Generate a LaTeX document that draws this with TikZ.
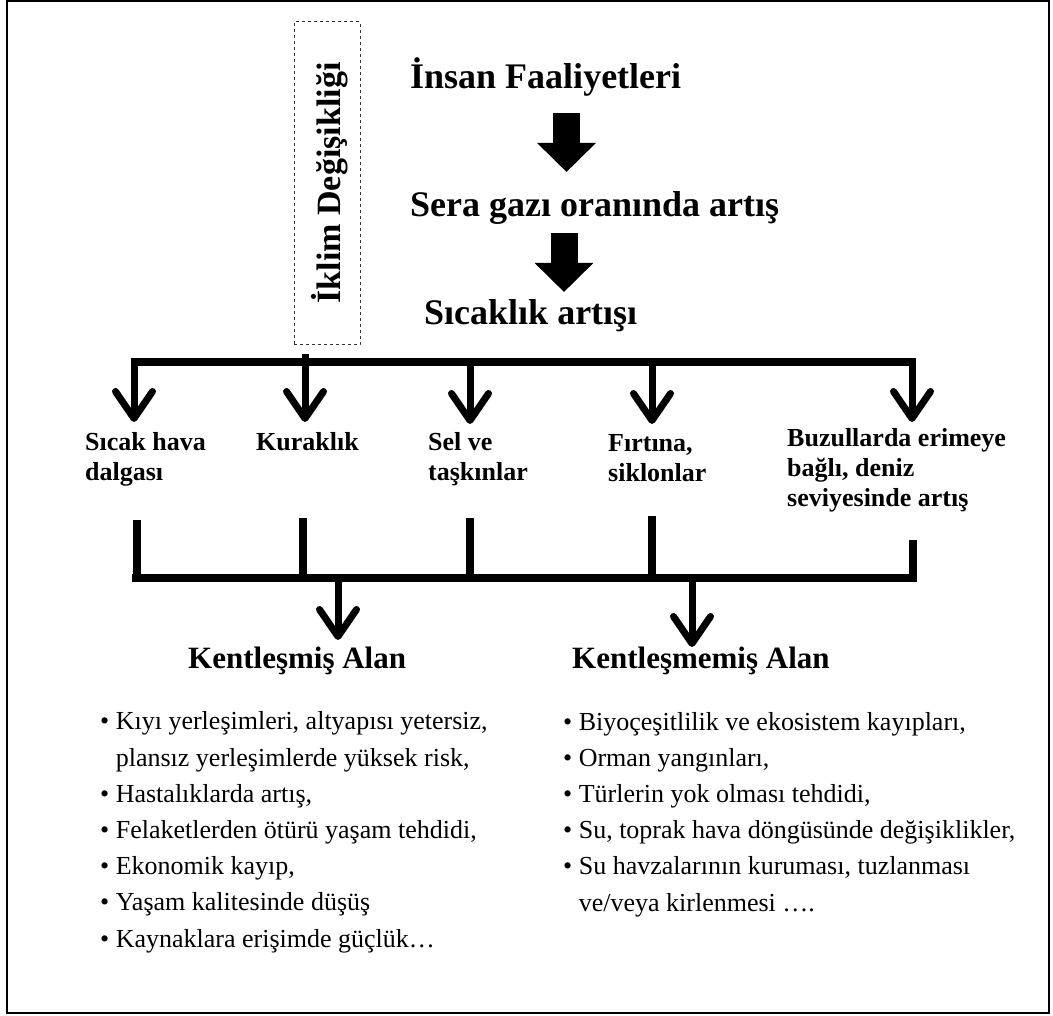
\documentclass[tikz,border=0pt]{standalone}
\usepackage{fontspec}
\setmainfont{Liberation Serif}
\usetikzlibrary{arrows.meta}
\begin{document}
\begin{tikzpicture}[x=1pt,y=-1pt,
  heading/.style={font=\fontsize{36}{40}\selectfont\bfseries, inner sep=0pt, anchor=base west},
  effect/.style={font=\fontsize{26}{30}\selectfont\bfseries, inner sep=0pt, anchor=base west, align=left},
  area/.style={font=\fontsize{31}{36}\selectfont\bfseries, inner sep=0pt, anchor=base west},
  itemlist/.style={font=\fontsize{26}{36.2}\selectfont, inner sep=0pt, anchor=base west, align=left},
  bus/.style={line width=7.5pt},
  barb/.style={line width=7pt, -{Straight Barb[length=27pt, width=37pt, round]}},
  blockarrow/.style={line width=27pt, -{Triangle[length=29pt, width=57pt]}},
  climbox/.style={draw=black!80, dashed, line width=1pt, minimum width=66pt, minimum height=323pt, inner sep=0pt},
]
% page and outer frame
\useasboundingbox (0,0) rectangle (1053,1016);
\draw[line width=2pt] (7,1.5) rectangle (1049,1013);

% climate change label in a dashed box
\node[climbox] (climbox) at (327,183.5) {};
\node[font=\fontsize{34}{38}\selectfont\bfseries, rotate=90, inner sep=0pt] (climate) at (330,183) {İklim Değişikliği};

% causal chain
\node[heading] (human) at (410,89) {İnsan Faaliyetleri};
\node[heading] (ghg) at (410,217) {Sera gazı oranında artış};
\node[heading] (temp) at (424,325) {Sıcaklık artışı};
\coordinate (a1s) at (566.5,113);
\coordinate (a1e) at (566.5,172);
\coordinate (a2s) at (564,233);
\coordinate (a2e) at (564,292);
\draw[blockarrow] (a1s) -- (a1e);
\draw[blockarrow] (a2s) -- (a2e);

% upper distribution bar and its arrows
\coordinate (ub1) at (130.5,362);
\coordinate (ub2) at (916,362);
\draw[bus] (ub1) -- (ub2);
\foreach \n/\x/\y/\t in {1/134/358.5/422, 2/305/354/422, 3/470/358.5/424, 4/652/358.5/424, 5/912/358.5/422}{
  \coordinate (us\n) at (\x,\y);
  \coordinate (ut\n) at (\x,\t);
  \draw[barb] (us\n) -- (ut\n);
}

% effects (anchored at the baseline of their last line)
\node[effect] (heat) at (85,480) {Sıcak hava\\dalgası};
\node[effect] (drought) at (256,450) {Kuraklık};
\node[effect] (flood) at (428,480) {Sel ve\\taşkınlar};
\node[effect] (storm) at (608,482) {Fırtına,\\siklonlar};
\node[effect] (sea) at (787,506) {Buzullarda erimeye\\bağlı, deniz\\seviyesinde artış};

% lower collecting bar
\coordinate (lb1) at (132,578);
\coordinate (lb2) at (917,578);
\draw[bus] (lb1) -- (lb2);
\foreach \n/\x/\y in {1/137/520, 2/303/518, 3/470/518, 4/652/516, 5/913/540}{
  \coordinate (ls\n) at (\x,\y);
  \draw[bus] (ls\n) -- (\x,581.75);
}
\coordinate (ld1) at (338,578);
\coordinate (lt1) at (338,640);
\coordinate (ld2) at (692,578);
\coordinate (lt2) at (692,647);
\draw[barb] (ld1) -- (lt1);
\draw[barb] (ld2) -- (lt2);

% affected areas
\node[area] (urban) at (188,668) {Kentleşmiş Alan};
\node[area] (rural) at (572,668) {Kentleşmemiş Alan};

\node[itemlist] (urbanlist) at (100,947) {•\ Kıyı yerleşimleri, altyapısı yetersiz,\\
\phantom{•\ }plansız yerleşimlerde yüksek risk,\\
•\ Hastalıklarda artış,\\
•\ Felaketlerden ötürü yaşam tehdidi,\\
•\ Ekonomik kayıp,\\
•\ Yaşam kalitesinde düşüş\\
•\ Kaynaklara erişimde güçlük…};

\node[itemlist] (rurallist) at (563,911) {•\ Biyoçeşitlilik ve ekosistem kayıpları,\\
•\ Orman yangınları,\\
•\ Türlerin yok olması tehdidi,\\
•\ Su, toprak hava döngüsünde değişiklikler,\\
•\ Su havzalarının kuruması, tuzlanması\\
\phantom{•\ }ve/veya kirlenmesi ….};
\end{tikzpicture}
\end{document}
